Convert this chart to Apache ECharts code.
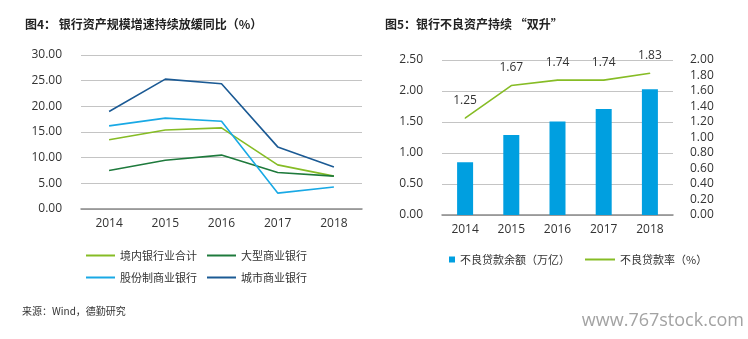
<!DOCTYPE html>
<html>
<head>
<meta charset="utf-8">
<script src="https://cdn.jsdelivr.net/npm/echarts@6/dist/echarts.min.js"></script>
<style>
html,body{margin:0;padding:0;background:#fff;}
#chart{width:748px;height:339px;}
</style>
</head>
<body>
<div id="chart"></div>
<script>
// Years shared by both panels
const years = ['2014', '2015', '2016', '2017', '2018'];

// Panel 4: asset growth by bank type, year-on-year (%)
const domesticTotal = [13.5, 15.4, 15.8, 8.6, 6.4];
const largeBanks = [7.5, 9.5, 10.5, 7.1, 6.4];
const jointStockBanks = [16.2, 17.7, 17.1, 3.1, 4.3];
const cityBanks = [19.0, 25.3, 24.4, 12.1, 8.2];

// Panel 5: non-performing loans
const nplBalance = [0.85, 1.29, 1.51, 1.71, 2.03];   // 万亿
const nplRatio = [1.25, 1.67, 1.74, 1.74, 1.83];     // %

const FONT = '"Open Sans", "Noto Sans CJK SC", sans-serif';
const CJK = '"Noto Sans CJK SC", "Open Sans", sans-serif';
const TXT = '#333';
const GRID_LINE = '#c4c4c4';
const AXIS_LINE = '#8a8a8a';

const chart = echarts.init(document.getElementById('chart'), null, {renderer: 'canvas'});

const lineSeries = (name, data, color) => ({
  name, type: 'line', data, xAxisIndex: 0, yAxisIndex: 0,
  symbol: 'none', lineStyle: {color, width: 1.6}, itemStyle: {color}
});

// thin bar used as the legend key for line series
const lineKey = name => ({name, icon: 'rect'});

const legendBase = {
  itemGap: 10, itemWidth: 29, itemHeight: 2,
  textStyle: {fontFamily: CJK, fontSize: 11, color: TXT}
};

chart.setOption({
  animation: false,
  textStyle: {fontFamily: FONT},
  title: [
    {text: '图4： 银行资产规模增速持续放缓同比（%）', left: 20, top: 13,
     textStyle: {fontFamily: CJK, fontSize: 12, fontWeight: 'bold', color: '#222'}},
    {text: '图5：银行不良资产持续 “双升”', left: 380, top: 13,
     textStyle: {fontFamily: CJK, fontSize: 12, fontWeight: 'bold', color: '#222'}}
  ],
  grid: [
    {left: 81, right: 386, top: 55, bottom: 130},
    {left: 442, right: 75, top: 60, bottom: 124}
  ],
  xAxis: [
    {type: 'category', gridIndex: 0, data: years,
     axisLine: {lineStyle: {color: AXIS_LINE, width: 1.5}}, axisTick: {show: false},
     axisLabel: {color: TXT, fontSize: 12, margin: 9, fontFamily: FONT}},
    {type: 'category', gridIndex: 1, data: years,
     axisLine: {lineStyle: {color: AXIS_LINE, width: 1.5}}, axisTick: {show: false},
     axisLabel: {color: TXT, fontSize: 12, margin: 9, fontFamily: FONT}}
  ],
  yAxis: [
    {type: 'value', gridIndex: 0, min: 0, max: 30, interval: 5,
     axisLine: {show: false}, axisTick: {show: false},
     splitLine: {lineStyle: {color: GRID_LINE, width: 1.2}},
     axisLabel: {color: TXT, fontSize: 12, margin: 19, fontFamily: FONT,
                 formatter: v => v.toFixed(2)}},
    {type: 'value', gridIndex: 1, min: 0, max: 2.5, interval: 0.5,
     axisLine: {show: false}, axisTick: {show: false},
     splitLine: {lineStyle: {color: GRID_LINE, width: 1.2}},
     axisLabel: {color: TXT, fontSize: 12, margin: 19, fontFamily: FONT,
                 formatter: v => v.toFixed(2)}},
    {type: 'value', gridIndex: 1, position: 'right', min: 0, max: 2, interval: 0.2,
     axisLine: {show: false}, axisTick: {show: false}, splitLine: {show: false},
     axisLabel: {color: TXT, fontSize: 12, margin: 17, fontFamily: FONT,
                 formatter: v => v.toFixed(2)}}
  ],
  legend: [
    Object.assign({}, legendBase, {left: 81, top: 245,
      data: [lineKey('境内银行业合计'), lineKey('大型商业银行')]}),
    Object.assign({}, legendBase, {left: 81, top: 267,
      data: [lineKey('股份制商业银行'), lineKey('城市商业银行')]}),
    Object.assign({}, legendBase, {left: 444, top: 249, itemWidth: 6, itemHeight: 6, itemGap: 0,
      data: [{name: '不良贷款余额（万亿）', icon: 'rect'}]}),
    Object.assign({}, legendBase, {left: 580, top: 249, itemWidth: 30,
      data: [lineKey('不良贷款率（%）')]})
  ],
  series: [
    lineSeries('境内银行业合计', domesticTotal, '#86bc25'),
    lineSeries('大型商业银行', largeBanks, '#1e7a3c'),
    lineSeries('股份制商业银行', jointStockBanks, '#19a9e5'),
    lineSeries('城市商业银行', cityBanks, '#1b5a94'),
    {name: '不良贷款余额（万亿）', type: 'bar', data: nplBalance,
     xAxisIndex: 1, yAxisIndex: 1, barWidth: 16,
     itemStyle: {color: '#009fe0'}},
    {name: '不良贷款率（%）', type: 'line', data: nplRatio,
     xAxisIndex: 1, yAxisIndex: 2, symbol: 'circle', symbolSize: 1, showSymbol: true,
     lineStyle: {color: '#86bc25', width: 1.6}, itemStyle: {color: '#86bc25'},
     label: {show: true, position: 'top', distance: 11, color: TXT, fontSize: 12,
             fontFamily: FONT, formatter: p => p.value.toFixed(2)}}
  ],
  graphic: [
    {type: 'text', left: 22, top: 306,
     style: {text: '来源：Wind，德勤研究', font: '10px ' + CJK, fill: '#333'}},
    {type: 'text', right: 4, top: 312,
     style: {text: 'www.767stock.com', font: '18px ' + FONT, fill: '#a3a3a3'}}
  ]
});
</script>
</body>
</html>
